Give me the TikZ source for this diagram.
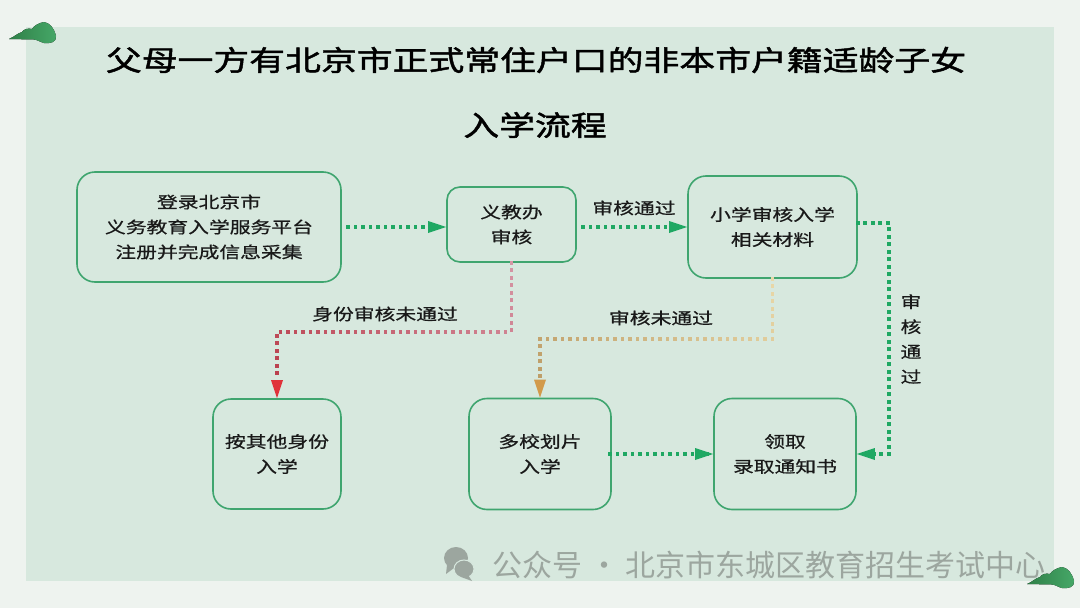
\documentclass[tikz,border=0pt]{standalone}
\usepackage{fontspec}
\usepackage{xcolor}
\setmainfont{Noto Sans CJK SC}
\newfontfamily\lishu[FakeStretch=1.3,FakeBold=0.8]{Noto Sans CJK SC}
\newfontfamily\lishub[FakeStretch=1.28,FakeBold=1.6]{Noto Sans CJK SC}
\usetikzlibrary{arrows.meta,decorations.markings}
\definecolor{pagebg}{HTML}{EEF3EF}
\definecolor{panelbg}{HTML}{D7E8DE}
\definecolor{boxline}{HTML}{3FA56F}
\definecolor{dotgreen}{HTML}{1FA863}
\definecolor{markgray}{HTML}{9CA69F}
\definecolor{pinkstart}{HTML}{D596A5}
\definecolor{redend}{HTML}{B83A48}
\definecolor{redtip}{HTML}{E0323A}
\definecolor{sandstart}{HTML}{E9D8A8}
\definecolor{sandend}{HTML}{BB9A64}
\definecolor{sandtip}{HTML}{D29A4A}
\definecolor{hilldark}{HTML}{2F8048}
\definecolor{hilllight}{HTML}{46A868}
\tikzstyle{flowbox}=[rectangle,rounded corners=18pt,line width=1.6pt,draw=boxline,align=center,
  font=\lishu\fontsize{16}{25}\selectfont,text=black!90]
\tikzstyle{tag}=[align=center,font=\lishu\fontsize{16}{25}\selectfont,text=black!90]
\tikzset{
  dotline/.style n args={3}{decorate,decoration={markings,
    mark=between positions 0 and 0.95 step 7.5pt with {
      \pgfmathsetmacro\mixval{\pgfkeysvalueof{/pgf/decoration/mark info/distance from start}/\pgfdecoratedpathlength*100}
      \fill[color={#2!\mixval!#1}] (-1.9pt,-1.9pt) rectangle (1.9pt,1.9pt);},
    mark=at position 1 with {\fill[#3] (0,0) -- (-18pt,6pt) -- (-18pt,-6pt) -- cycle;}}},
  dotgreenline/.style={dotline={dotgreen}{dotgreen}{dotgreen}}
}

\begin{document}
\begin{tikzpicture}[x=1pt,y=-1pt]

	\useasboundingbox (0,0) rectangle (1080,608);
	\fill[pagebg] (0,0) rectangle (1080,608);
	\fill[panelbg] (26,27) rectangle (1054,581);

	% the two little hills on the corners
	\foreach \dx/\dy in {0/0,1018/545}
		\fill[shift={(\dx,\dy)},left color=hilldark,right color=hilllight]
			(9,39) .. controls (14,37) and (18,33) .. (22,32)
			.. controls (24,29) and (28,28) .. (32,29)
			.. controls (34,26) and (38,23) .. (44,22)
			.. controls (50,23) and (54,28) .. (56,36)
			.. controls (57,42) and (50,44) .. (44,43)
			.. controls (40,42) and (38,40) .. (34,39.5)
			-- cycle;

	\node (title1) at (536,60) {\lishub\fontsize{28}{28}\selectfont 父母一方有北京市正式常住户口的非本市户籍适龄子女};
	\node (title2) at (535,125) {\lishub\fontsize{28}{28}\selectfont 入学流程};

	\node[flowbox,minimum width=264pt,minimum height=110pt] (denglu) at (209,227) {登录北京市\\义务教育入学服务平台\\注册并完成信息采集};
	\node[flowbox,minimum width=129pt,minimum height=75pt,rounded corners=13pt] (shenhe) at (511.5,224.5) {义教办\\审核};
	\node[flowbox,minimum width=169pt,minimum height=102pt] (xiaoxue) at (772.5,227) {小学审核入学\\相关材料};
	\node[flowbox,minimum width=128pt,minimum height=110pt] (anqita) at (277,454) {按其他身份\\入学};
	\node[flowbox,minimum width=142pt,minimum height=111pt] (duoxiao) [right of=anqita,node distance=263pt] {多校划片\\入学};
	\node[flowbox,minimum width=142pt,minimum height=111pt] (lingqu) [right of=duoxiao,node distance=245pt] {领取\\录取通知书};

	\node[tag] (tag1) at (634,208) {审核通过};
	\node[tag] (tag2) at (385,314) {身份审核未通过};
	\node[tag] (tag3) at (661,318) {审核未通过};
	\node[tag] (tag4) at (911,339) {审\\核\\通\\过};

	\coordinate (start1) at (348,227);
	\coordinate (start2) at (583,227);
	\coordinate (start3) at (610,454);
	\coordinate (turn1) at (889,223);

	\path[dotgreenline] (start1) -- (shenhe.west |- start1);
	\path[dotgreenline] (start2) -- (xiaoxue.west);
	\path[dotgreenline] (start3) -- (lingqu.west);
	\path[dotgreenline] (xiaoxue.east |- turn1) -- (turn1) |- (lingqu.east);
	\path[dotline={pinkstart}{redend}{redtip}] (shenhe.south) -- ++(0,69) -| (anqita.north);
	\path[dotline={sandstart}{sandend}{sandtip}] (xiaoxue.south) -- ++(0,60) -| (duoxiao.north);

	% watermark
	\node[text=markgray,font=\fontsize{30}{30}\selectfont,inner sep=0pt] (water) at (769,565) {公众号 · 北京市东城区教育招生考试中心};
	\fill[markgray] (456,558) ellipse (12pt and 11pt);
	\fill[markgray] (447,565) -- (446,574) -- (454,568) -- cycle;
	\fill[markgray,draw=panelbg,line width=1pt] (464,569) ellipse (10pt and 9pt);
	\fill[markgray] (468,575) -- (472,581) -- (461,577) -- cycle;

\end{tikzpicture}
\end{document}
